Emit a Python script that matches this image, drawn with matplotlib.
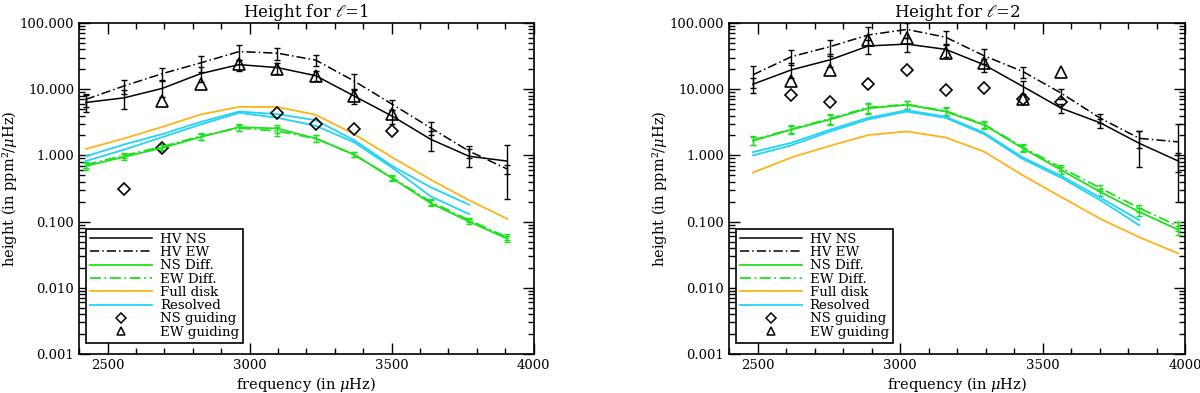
import numpy as np
import matplotlib
matplotlib.use('Agg')
import matplotlib.pyplot as plt
from matplotlib.lines import Line2D
from matplotlib.ticker import MultipleLocator, LogLocator, FixedLocator, NullFormatter

plt.rcParams['font.family'] = ['DejaVu Serif']
plt.rcParams['mathtext.fontset'] = 'dejavuserif'

GREEN = '#1fe01f'
ORANGE = '#ffb31a'
CYAN = '#22d3f5'
DASHDOT = (0, (6, 2, 1, 2))

# ---------------- l=1 ----------------
freq_l1 = [2423, 2558, 2693, 2828, 2963, 3098, 3233, 3368, 3503, 3638, 3773, 3908]
hv_ns_l1 = [6.3, 7.4, 10.3, 17.2, 23.5, 21.2, 16.0, 7.9, 3.9, 1.75, 0.97, 0.82]
hv_ns_l1_err = [1.8, 2.4, 2.8, 4.5, 4.5, 4.0, 2.8, 2.0, 0.9, 0.6, 0.3, 0.6]
hv_ew_l1 = [7.0, 11.2, 17.2, 25.0, 37.0, 35.0, 27.5, 13.3, 5.9, 2.6, 1.16, 0.62]
hv_ew_l1_err = [1.6, 2.8, 3.5, 7.0, 9.0, 7.0, 5.0, 3.5, 1.0, 0.6, 0.25, 0.1]
ns_diff_l1 = [0.69, 0.95, 1.3, 1.9, 2.67, 2.55, 1.8, 1.03, 0.45, 0.19, 0.1, 0.055]
ns_diff_l1_err = [0.08, 0.1, 0.15, 0.22, 0.3, 0.35, 0.2, 0.1, 0.04, 0.02, 0.008, 0.006]
ew_diff_l1 = [0.72, 1.0, 1.36, 1.95, 2.6, 2.33, 1.8, 1.03, 0.46, 0.2, 0.105, 0.058]
ew_diff_l1_err = [0.08, 0.1, 0.15, 0.22, 0.3, 0.35, 0.2, 0.1, 0.04, 0.02, 0.008, 0.006]
full_l1 = [1.25, 1.8, 2.7, 4.15, 5.4, 5.4, 4.1, 2.1, 0.93, 0.43, 0.21, 0.11]
res_a_l1 = [0.97, 1.46, 2.1, 3.2, 4.6, 4.2, 3.4, 1.7, 0.69, 0.33, 0.18]
res_b_l1 = [0.82, 1.22, 1.89, 2.93, 4.4, 3.7, 2.8, 1.58, 0.65, 0.24, 0.13]
ns_guid_f_l1 = [2558, 2693, 3098, 3233, 3368, 3503]
ns_guid_l1 = [0.31, 1.3, 4.4, 3.0, 2.5, 2.33]
ew_guid_f_l1 = [2693, 2828, 2963, 3098, 3233, 3368, 3503]
ew_guid_l1 = [6.6, 11.8, 24.0, 20.5, 15.8, 7.8, 4.2]

# ---------------- l=2 ----------------
freq_l2 = [2484, 2619, 2755, 2889, 3024, 3160, 3295, 3431, 3566, 3703, 3840, 3977]
hv_ns_l2 = [11.9, 19.6, 27.8, 45.0, 48.0, 40.0, 23.4, 11.0, 5.15, 3.1, 1.52, 0.82]
hv_ns_l2_err = [3.0, 5.0, 6.0, 11.0, 12.0, 9.0, 5.0, 2.5, 0.8, 0.5, 0.85, 0.25]
hv_ew_l2 = [16.5, 31.0, 44.0, 66.0, 80.0, 61.0, 32.0, 18.5, 8.7, 3.64, 1.81, 1.6]
hv_ew_l2_err = [6.0, 8.0, 12.0, 20.0, 20.0, 15.0, 8.0, 3.5, 1.5, 0.6, 0.5, 1.4]
ns_diff_l2 = [1.67, 2.45, 3.5, 5.15, 5.8, 4.6, 2.88, 1.28, 0.6, 0.28, 0.14, 0.075]
ns_diff_l2_err = [0.25, 0.35, 0.6, 0.9, 0.8, 0.6, 0.35, 0.15, 0.07, 0.035, 0.018, 0.012]
ew_diff_l2 = [1.7, 2.5, 3.6, 5.3, 5.9, 4.7, 2.95, 1.33, 0.65, 0.32, 0.16, 0.085]
ew_diff_l2_err = [0.25, 0.35, 0.6, 0.9, 0.8, 0.6, 0.35, 0.15, 0.07, 0.035, 0.018, 0.012]
full_l2 = [0.55, 0.93, 1.4, 2.03, 2.3, 1.87, 1.14, 0.5, 0.235, 0.11, 0.058, 0.033]
res_a_l2 = [1.12, 1.55, 2.45, 3.7, 4.8, 3.85, 2.2, 0.93, 0.49, 0.23, 0.105]
res_b_l2 = [1.0, 1.42, 2.3, 3.5, 4.6, 3.7, 2.1, 0.88, 0.46, 0.21, 0.088]
ns_guid_f_l2 = [2619, 2755, 2889, 3024, 3160, 3295, 3431, 3566]
ns_guid_l2 = [8.2, 6.5, 12.0, 19.6, 9.8, 10.6, 7.05, 6.5]
ew_guid_f_l2 = [2619, 2755, 2889, 3024, 3160, 3295, 3431, 3566]
ew_guid_l2 = [13.5, 19.6, 56.0, 59.0, 35.0, 24.8, 7.05, 17.9]

ytick_vals = [0.001, 0.01, 0.1, 1, 10, 100]
ytick_labels = ['0.001', '0.010', '0.100', '1.000', '10.000', '100.000']
legend_labels = ['HV NS', 'HV EW', 'NS Diff.', 'EW Diff.', 'Full disk', 'Resolved', 'NS guiding', 'EW guiding']


def draw_panel(ax, d, title, ylabel_x):
    f = d['freq']
    eb = dict(capsize=2, elinewidth=1, capthick=1)
    ax.errorbar(f, d['hv_ns'], yerr=d['hv_ns_err'], color='black', lw=1.1, ls='-', **eb)
    ax.errorbar(f, d['hv_ew'], yerr=d['hv_ew_err'], color='black', lw=1.1, ls=DASHDOT, **eb)
    ax.errorbar(f, d['ns_diff'], yerr=d['ns_diff_err'], color=GREEN, lw=1.3, ls='-', **eb)
    ax.errorbar(f, d['ew_diff'], yerr=d['ew_diff_err'], color=GREEN, lw=1.3, ls=DASHDOT, **eb)
    ax.plot(f, d['full'], color=ORANGE, lw=1.3)
    ax.plot(f[:len(d['res_a'])], d['res_a'], color=CYAN, lw=1.3)
    ax.plot(f[:len(d['res_b'])], d['res_b'], color=CYAN, lw=1.3)
    ax.plot(d['ns_gf'], d['ns_g'], ls='none', marker='D', ms=6, mfc='none', mec='black', mew=1.2)
    ax.plot(d['ew_gf'], d['ew_g'], ls='none', marker='^', ms=9, mfc='none', mec='black', mew=1.2)

    ax.set_yscale('log')
    ax.set_xlim(2400, 4000)
    ax.set_ylim(0.001, 100)
    ax.yaxis.set_major_locator(FixedLocator(ytick_vals))
    ax.set_yticklabels(ytick_labels)
    ax.yaxis.set_minor_locator(LogLocator(base=10, subs=np.arange(2, 10)))
    ax.yaxis.set_minor_formatter(NullFormatter())
    ax.xaxis.set_major_locator(MultipleLocator(500))
    ax.xaxis.set_minor_locator(MultipleLocator(100))
    ax.tick_params(which='both', direction='in', top=True, right=True, labelsize=9.5)
    ax.tick_params(which='major', length=8, width=1)
    ax.tick_params(which='minor', length=4, width=1)
    for s in ax.spines.values():
        s.set_linewidth(1.2)
    ax.set_title(title, fontsize=12, pad=4)
    ax.set_xlabel(r'frequency (in $\mu$Hz)', fontsize=10.5, labelpad=2)
    ax.set_ylabel(r'height (in ppm²/$\mu$Hz)', fontsize=10.5, va='center')
    ax.yaxis.set_label_coords(ylabel_x, 0.5)

    handles = [
        Line2D([], [], color='black', lw=1.1),
        Line2D([], [], color='black', lw=1.1, ls=DASHDOT),
        Line2D([], [], color=GREEN, lw=1.3),
        Line2D([], [], color=GREEN, lw=1.3, ls=DASHDOT),
        Line2D([], [], color=ORANGE, lw=1.3),
        Line2D([], [], color=CYAN, lw=1.3),
        Line2D([], [], ls='none', marker='D', ms=5, mfc='none', mec='black', mew=1.1),
        Line2D([], [], ls='none', marker='^', ms=6, mfc='none', mec='black', mew=1.1),
    ]
    leg = ax.legend(handles, legend_labels, loc='lower left', bbox_to_anchor=(0.016, 0.034),
                    borderaxespad=0, fontsize=9.6, handlelength=4.6, handletextpad=0.6,
                    labelspacing=0.02, numpoints=1, fancybox=False, framealpha=1,
                    edgecolor='black', borderpad=0.3)
    leg.get_frame().set_linewidth(1.2)


fig = plt.figure(figsize=(12, 3.93), dpi=100)
ax1 = fig.add_axes([0.066, 0.0992, 0.3786, 0.8423])
ax2 = fig.add_axes([0.6075, 0.0992, 0.38, 0.8423])

draw_panel(ax1, dict(freq=freq_l1, hv_ns=hv_ns_l1, hv_ns_err=hv_ns_l1_err, hv_ew=hv_ew_l1, hv_ew_err=hv_ew_l1_err,
                     ns_diff=ns_diff_l1, ns_diff_err=ns_diff_l1_err, ew_diff=ew_diff_l1, ew_diff_err=ew_diff_l1_err,
                     full=full_l1, res_a=res_a_l1, res_b=res_b_l1,
                     ns_gf=ns_guid_f_l1, ns_g=ns_guid_l1, ew_gf=ew_guid_f_l1, ew_g=ew_guid_l1),
           r'Height for $\ell$=1', -0.153)
draw_panel(ax2, dict(freq=freq_l2, hv_ns=hv_ns_l2, hv_ns_err=hv_ns_l2_err, hv_ew=hv_ew_l2, hv_ew_err=hv_ew_l2_err,
                     ns_diff=ns_diff_l2, ns_diff_err=ns_diff_l2_err, ew_diff=ew_diff_l2, ew_diff_err=ew_diff_l2_err,
                     full=full_l2, res_a=res_a_l2, res_b=res_b_l2,
                     ns_gf=ns_guid_f_l2, ns_g=ns_guid_l2, ew_gf=ew_guid_f_l2, ew_g=ew_guid_l2),
           r'Height for $\ell$=2', -0.153)

fig.savefig('out.png', dpi=100)
